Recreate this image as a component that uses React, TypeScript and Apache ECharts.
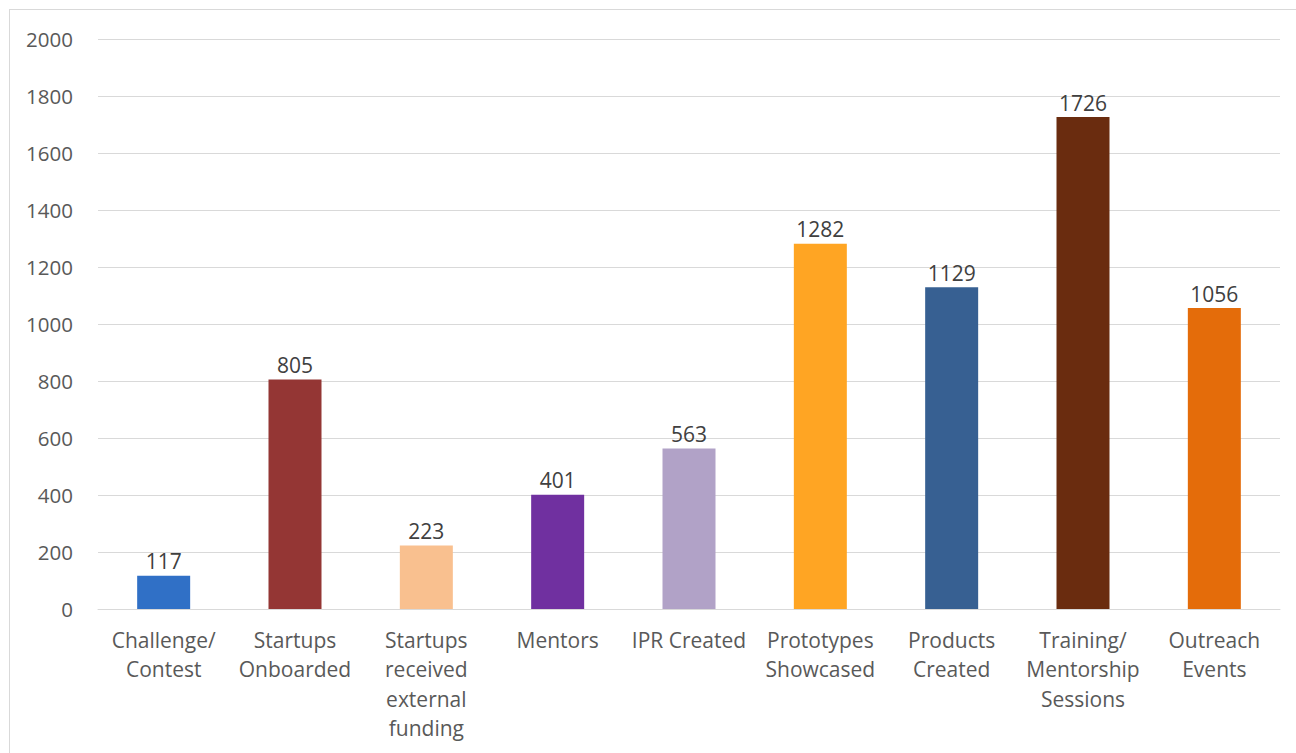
import React, { useEffect, useRef } from "react";
import * as echarts from "echarts";

const categories = [
  "Challenge/\nContest",
  "Startups\nOnboarded",
  "Startups\nreceived\nexternal\nfunding",
  "Mentors",
  "IPR Created",
  "Prototypes\nShowcased",
  "Products\nCreated",
  "Training/\nMentorship\nSessions",
  "Outreach\nEvents",
];
const values = [117, 805, 223, 401, 563, 1282, 1129, 1726, 1056];
const barColors = [
  "#3070C6",
  "#943634",
  "#F9C08F",
  "#7030A0",
  "#B1A2C7",
  "#FFA523",
  "#376092",
  "#6A2C0F",
  "#E46C0A",
];
const yTicks = { min: 0, max: 2000, interval: 200 };

const FONT = "'Open Sans', 'Liberation Sans', sans-serif";

export default function App() {
  const ref = useRef<HTMLDivElement>(null);
  useEffect(() => {
    if (!ref.current) return;
    const chart = echarts.init(ref.current, undefined, { renderer: "svg" });
    chart.setOption({
      animation: false,
      backgroundColor: "#ffffff",
      grid: { left: 88, right: 16, top: 29, bottom: 144, containLabel: false },
      xAxis: {
        type: "category",
        data: categories,
        axisLine: { show: true, lineStyle: { color: "#d9d9d9", width: 1 } },
        axisTick: { show: false },
        axisLabel: {
          interval: 0,
          margin: 16,
          color: "#595959",
          fontFamily: FONT,
          fontSize: 21,
          lineHeight: 29.5,
          verticalAlign: "top",
        },
      },
      yAxis: {
        type: "value",
        min: yTicks.min,
        max: yTicks.max,
        interval: yTicks.interval,
        axisLine: { show: false },
        axisTick: { show: false },
        splitLine: { lineStyle: { color: "#d9d9d9", width: 1 } },
        axisLabel: {
          margin: 25,
          color: "#595959",
          fontFamily: FONT,
          fontSize: 20.5,
          formatter: (v: number) => String(v),
        },
      },
      series: [
        {
          type: "bar",
          data: values.map((v, i) => ({ value: v, itemStyle: { color: barColors[i] } })),
          barWidth: 53,
          label: {
            show: true,
            position: "top",
            distance: 4,
            color: "#404040",
            fontFamily: FONT,
            fontSize: 21,
          },
        },
      ],
    });
    return () => chart.dispose();
  }, []);
  return (
    <div
      style={{
        position: "fixed",
        left: 9,
        top: 9,
        width: 1400,
        height: 900,
        border: "1px solid #d9d9d9",
        boxSizing: "border-box",
        background: "#fff",
      }}
    >
      <div ref={ref} style={{ width: 1286, height: 743 }} />
    </div>
  );
}
